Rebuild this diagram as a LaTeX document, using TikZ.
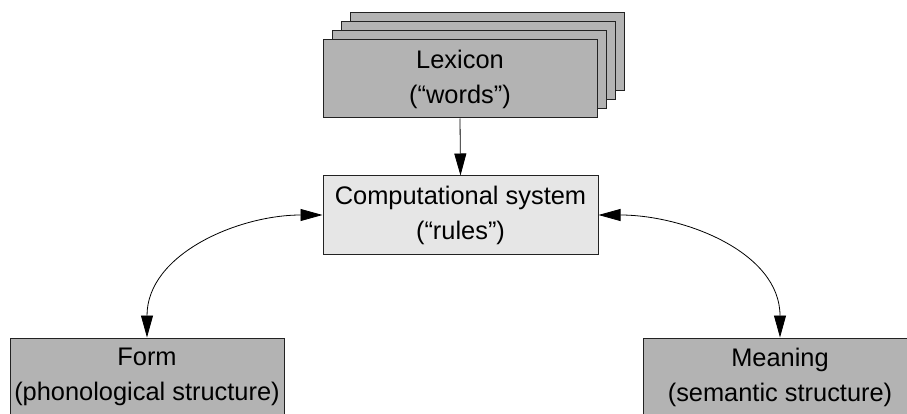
\documentclass[tikz,border=0pt]{standalone}
\usepackage{fontspec}
\setmainfont{Liberation Sans}
\usetikzlibrary{arrows.meta}
\definecolor{boxdark}{HTML}{B3B3B3}
\definecolor{boxlight}{HTML}{E6E6E6}
\definecolor{edge}{HTML}{222222}
\tikzset{
  card/.style={draw=edge, line width=1pt, fill=boxdark, rectangle, inner sep=0pt,
    minimum width=274pt, minimum height=78pt, align=center,
    font=\fontsize{25.4pt}{35pt}\selectfont},
  corebox/.style={card, fill=boxlight, minimum width=275pt},
  link/.style={draw=black, line width=0.8pt},
  tip/.tip={Triangle[length=22pt,width=12pt]}
}
\begin{document}
\begin{tikzpicture}[x=1pt,y=-1pt]
  \useasboundingbox (0,0) rectangle (907,414);
  \clip (0,0) rectangle (907,414);

  % stacked lexicon cards
  \node[card] (lexC) at (487,52) {};
  \node[card] (lexB) at (478,61) {};
  \node[card] (lexA) at (469,70) {};
  \node[card] (lex)  at (460,79) {Lexicon\\(“words”)};

  % central computational system
  \node[corebox] (comp) at (460.5,215) {Computational system\\(“rules”)};

  % interfaces
  \node[card] (form)    at (147,377) {Form\\(phonological structure)};
  \node[card] (meaning) at (780,377) {Meaning\\(semantic structure)};

  % connectors
  \draw[link, -tip] (lex.south) -- (comp.north);
  \draw[link, tip-tip] (comp.west) to[out=180,in=90] (form.north);
  \draw[link, tip-tip] (comp.east) to[out=0,in=90] (meaning.north);
\end{tikzpicture}
\end{document}
